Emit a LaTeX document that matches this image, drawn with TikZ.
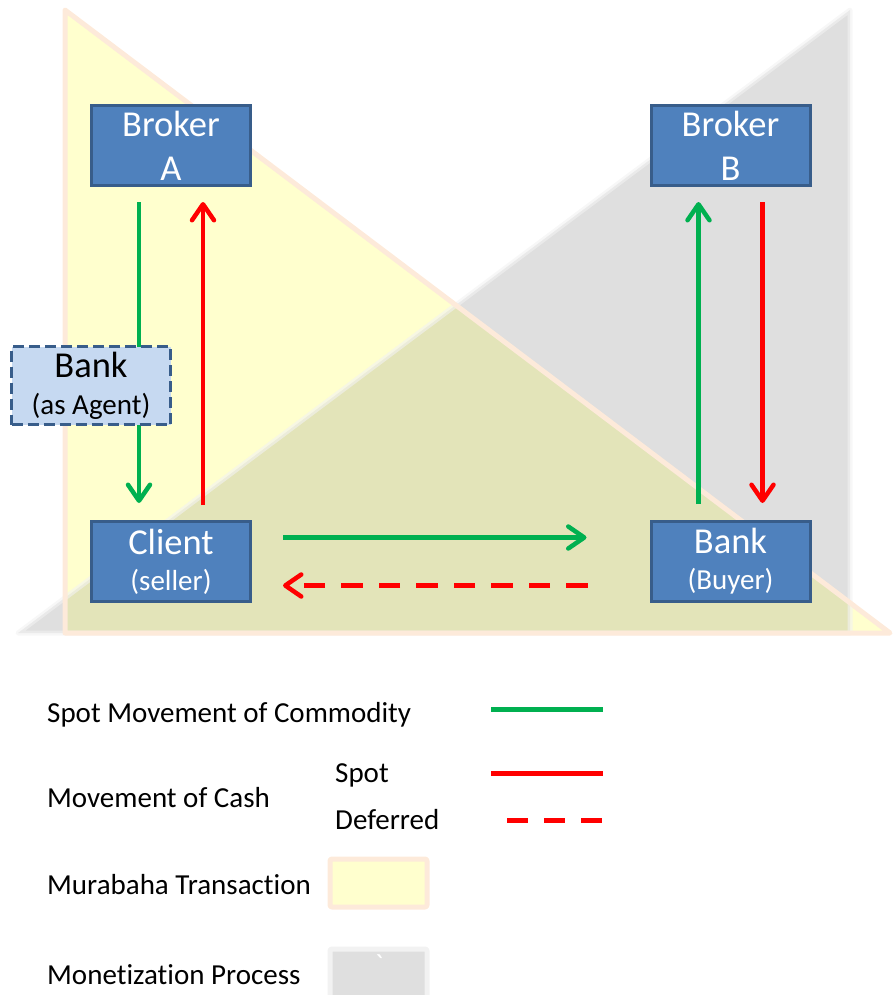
\documentclass[tikz,border=0pt]{standalone}
\usepackage{fontspec}
\setmainfont{Carlito}[Ligatures=NoCommon]
\usetikzlibrary{arrows.meta}
\definecolor{boxblue}{HTML}{4F81BD}
\definecolor{boxedge}{HTML}{385D8A}
\definecolor{agentblue}{HTML}{C6D9F1}
\definecolor{cgreen}{HTML}{00B050}
\definecolor{cred}{HTML}{FF0000}
\definecolor{murfill}{HTML}{FFFFCE}
\definecolor{muredge}{HTML}{FDEADA}
\definecolor{monfill}{HTML}{DFDFDF}
\definecolor{monedge}{HTML}{F2F2F2}
\definecolor{bothfill}{HTML}{E3E4B9}
\newcommand\subtag[1]{{\fontsize{29}{34}\selectfont #1}}
\begin{document}
\begin{tikzpicture}[x=1pt,y=-1pt,
party/.style={draw=boxedge,line width=3pt,fill=boxblue,text=white,minimum width=159pt,minimum height=80pt,inner sep=0pt,align=center,font=\fontsize{36.5}{44}\selectfont},
agent/.style={party,fill=agentblue,text=black,dash pattern=on 11pt off 5pt,minimum height=78pt},
flow/.style={line width=4.5pt,-{Straight Barb[length=16pt,width=22pt,line cap=round,line join=round]}},
goods/.style={flow,cgreen},cash/.style={flow,cred},later/.style={cash,dash pattern=on 21.5pt off 16pt},
lgd/.style={anchor=base west,inner sep=0pt,font=\fontsize{29}{34}\selectfont},
murab/.style={fill=murfill,draw=muredge,line width=5pt,line join=round},
monet/.style={fill=monfill,draw=monedge,line width=5pt,line join=round}]
\useasboundingbox(0,0)rectangle(893,995);\clip(0,0)rectangle(893,995);
% the two triangles
\fill[monfill](18,633)--(850,10)--(850,633)--cycle;
\fill[murfill](65,10)--(65,633)--(890,633)--cycle;
\begin{scope}\clip(18,633)--(850,10)--(850,633)--cycle;\fill[bothfill](65,10)--(65,633)--(890,633)--cycle;\end{scope}
\draw[monedge,line width=5pt,line join=round,opacity=.6](18,633)--(850,10)--(850,633)--cycle;
\draw[muredge,line width=5pt,line join=round](65,10)--(65,633)--(890,633)--cycle;
% parties
\node[party](brokerA)at(171,145.5){Broker\\A};
\node[party](brokerB)at(730.5,145.5){Broker\\B};
\node[party](client)at(171,561.5){Client\\[-8pt]\subtag{(seller)}};
\node[party](bank)at(730.5,561.5){Bank\\[-8pt]\subtag{(Buyer)}};
% flows
\draw[goods,shorten <=15pt,shorten >=17pt]([xshift=-32pt]brokerA.south)--([xshift=-32pt]client.north);
\draw[cash,shorten <=15pt,shorten >=15pt]([xshift=32pt]client.north)--([xshift=32pt]brokerA.south);
\draw[goods,shorten <=16pt,shorten >=15pt]([xshift=-32pt]bank.north)--([xshift=-32pt]brokerB.south);
\draw[cash,shorten <=15pt,shorten >=17pt]([xshift=32pt]brokerB.south)--([xshift=32pt]bank.north);
\draw[goods,shorten <=31pt,shorten >=63pt]([yshift=24pt]client.east)--([yshift=24pt]bank.west);
\draw[later,shorten <=62pt,shorten >=31pt]([yshift=-24pt]bank.west)--([yshift=-24pt]client.east);
\node[agent](agent)at(91,385.5){Bank\\[-7pt]\subtag{(as Agent)}};
% legend
\node[lgd](lcom)at(47,722){Spot Movement of Commodity};
\node[lgd](lcash)at(47,807){Movement of Cash};
\node[lgd](lspot)at(335,782){Spot};
\node[lgd](ldef)at(335,829){Deferred};
\node[lgd](lmur)at(47,894){Murabaha Transaction};
\node[lgd](lmon)at(47,984){Monetization Process};
\draw[cgreen,line width=5pt](491,709)--(603,709);
\draw[cred,line width=5pt](491,773)--(603,773);
\draw[cred,line width=5pt,dash pattern=on 21pt off 16pt](507,820)--(603,820);
\draw[murab,rounded corners=2pt](330,859)rectangle(427,907);
\draw[monet,rounded corners=2pt](330,949)rectangle(427,1005);
\node[text=white,font=\fontsize{29}{34}\selectfont](tick)at(379,965){\textasciigrave};
\end{tikzpicture}
\end{document}
